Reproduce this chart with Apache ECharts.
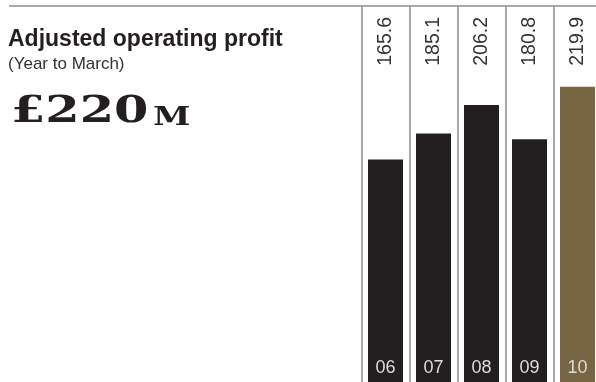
<!DOCTYPE html>
<html>
<head>
<meta charset="utf-8">
<script src="https://cdn.jsdelivr.net/npm/echarts@6/dist/echarts.min.js"></script>
<style>
  html, body { margin: 0; padding: 0; background: #ffffff; overflow: hidden; }
  /* the last column runs past the right edge of the page */
  #chart { width: 602px; height: 382px; }
</style>
</head>
<body>
<div id="chart"></div>
<script>
// Adjusted operating profit, year to March (£m)
const years = ['06', '07', '08', '09', '10'];
const profit = [165.6, 185.1, 206.2, 180.8, 219.9];
const headline = '£220';
const headlineUnit = 'M';

const barDark = '#231f20';
const barLatest = '#786642';
const ruleColor = '#8e8e8e';
const font = '"Liberation Sans", Arial, Helvetica, sans-serif';
const serif = 'bold {size}px "DejaVu Serif", serif';

const chart = echarts.init(document.getElementById('chart'), null, { renderer: 'canvas' });

chart.setOption({
  animation: false,
  backgroundColor: '#ffffff',
  title: [
    {
      text: 'Adjusted operating profit',
      subtext: '(Year to March)',
      left: 8,
      top: 28,
      padding: 0,
      itemGap: 5,
      textStyle: { fontFamily: font, fontWeight: 'bold', fontSize: 23, color: '#231f20' },
      subtextStyle: { fontFamily: font, fontSize: 17, color: '#333333' }
    }
  ],
  graphic: [
    {
      type: 'line',
      shape: { x1: 9, y1: 6, x2: 602, y2: 6 },
      style: { stroke: ruleColor, lineWidth: 1.5 },
      silent: true
    },
    {
      // wide display figure
      type: 'text',
      x: 11,
      y: 131,
      scaleX: 1.3,
      style: {
        text: headline,
        font: serif.replace('{size}', 38),
        fill: '#231f20',
        verticalAlign: 'bottom'
      },
      silent: true
    },
    {
      type: 'text',
      x: 153,
      y: 131,
      scaleX: 1.3,
      style: {
        text: headlineUnit,
        font: serif.replace('{size}', 26),
        fill: '#231f20',
        verticalAlign: 'bottom'
      },
      silent: true
    }
  ],
  grid: { left: 361.5, top: 6, width: 240, height: 376 },
  xAxis: [
    {
      type: 'category',
      data: years,
      position: 'bottom',
      boundaryGap: true,
      axisLine: { show: false },
      axisTick: { show: false },
      splitLine: { show: true, lineStyle: { color: ruleColor, width: 1.5 } },
      axisLabel: {
        inside: true,
        margin: 5,
        fontFamily: font,
        fontSize: 18,
        color: '#dcdcdc'
      },
      z: 5
    },
    {
      type: 'category',
      data: profit.map(v => v.toFixed(1)),
      position: 'top',
      boundaryGap: true,
      axisLine: { show: false },
      axisTick: { show: false },
      splitLine: { show: false },
      axisLabel: {
        inside: true,
        rotate: -90,
        margin: 11,
        fontFamily: font,
        fontSize: 19.5,
        color: '#333333'
      }
    }
  ],
  yAxis: {
    type: 'value',
    min: 0,
    max: 280,
    show: false,
    splitLine: { show: false }
  },
  series: [
    {
      type: 'bar',
      xAxisIndex: 0,
      barWidth: 35,
      data: profit.map((v, i) => ({
        value: v,
        itemStyle: { color: i === profit.length - 1 ? barLatest : barDark }
      }))
    }
  ]
});
</script>
</body>
</html>
